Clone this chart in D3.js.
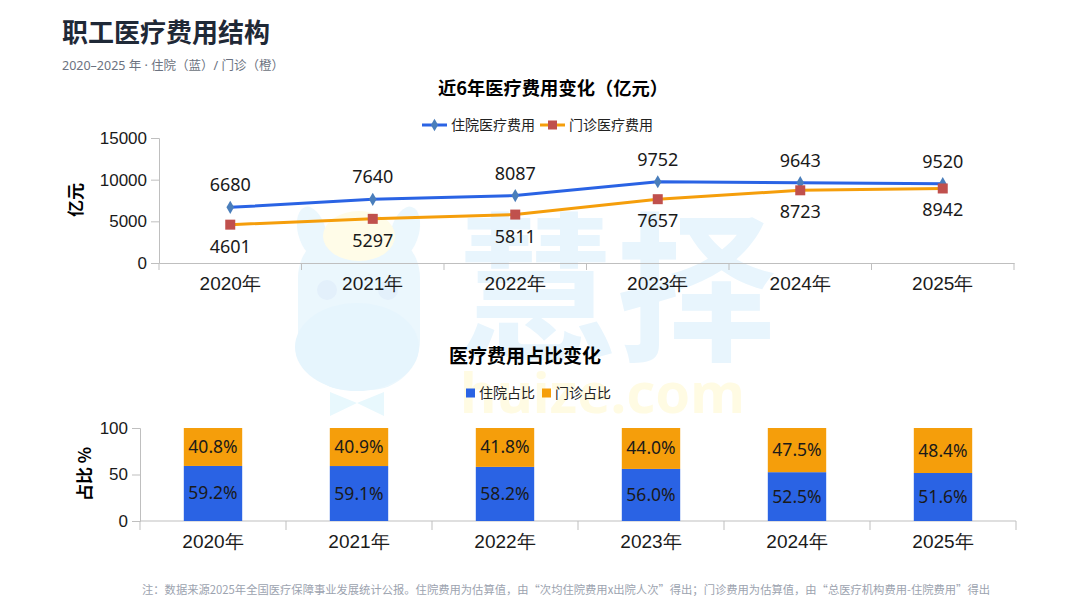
<!DOCTYPE html>
<head>
    <meta charset="utf-8">
    <script src="https://cdn.jsdelivr.net/npm/d3@7"></script>
    <style>
        body { margin: 0; background: #fff; }
        svg { font-family: "Noto Sans", "Noto Sans CJK SC", sans-serif; }
        .axis path, .axis line { stroke: #bfbfbf; }
        .axis text { fill: #1a1a1a; }
    </style>
</head>
<body>
<script>

    // data
    var years = ["2020年", "2021年", "2022年", "2023年", "2024年", "2025年"];
    var inpatient = [6680, 7640, 8087, 9752, 9643, 9520];
    var outpatient = [4601, 5297, 5811, 7657, 8723, 8942];
    var inShare = [59.2, 59.1, 58.2, 56.0, 52.5, 51.6];
    var outShare = [40.8, 40.9, 41.8, 44.0, 47.5, 48.4];
    var costTicks = [0, 5000, 10000, 15000];
    var shareTicks = [0, 50, 100];

    var blue = "#2a63e4", orange = "#f59e0b";

    var svg = d3.select("body").append("svg")
        .attr("width", 1080)
        .attr("height", 608);

    // watermark (mascot + brand)
    var wm = svg.append("g");
    var wmBlue = "#ebf7fd";
    wm.append("ellipse").attr("cx", 312).attr("cy", 232).attr("rx", 14).attr("ry", 26)
        .attr("transform", "rotate(-15,312,232)").style("fill", wmBlue);
    wm.append("ellipse").attr("cx", 405).attr("cy", 232).attr("rx", 14).attr("ry", 26)
        .attr("transform", "rotate(15,405,232)").style("fill", wmBlue);
    wm.append("rect").attr("x", 298).attr("y", 228).attr("width", 122).attr("height", 162)
        .attr("rx", 50).style("fill", wmBlue);
    wm.append("ellipse").attr("cx", 359).attr("cy", 236).attr("rx", 36).attr("ry", 25)
        .style("fill", "#fffce8");
    wm.append("circle").attr("cx", 327).attr("cy", 290).attr("r", 10).style("fill", "#e3f0fb");
    wm.append("circle").attr("cx", 388).attr("cy", 290).attr("r", 10).style("fill", "#e3f0fb");
    wm.append("ellipse").attr("cx", 357).attr("cy", 347).attr("rx", 62).attr("ry", 44)
        .style("fill", "#e6f5fd");
    wm.append("path").attr("d", "M330,392 L357,403 L330,416 Z M384,392 L357,403 L384,416 Z")
        .style("fill", "#e8f8fd");
    wm.append("text").attr("x", 456).attr("y", 348)
        .style("font-size", "160px").style("font-weight", "bold")
        .style("font-family", "Noto Sans CJK SC").style("fill", "#e8f5fd")
        .text("慧择");
    wm.append("text").attr("x", 460).attr("y", 413)
        .style("font-size", "56px").style("font-weight", "bold")
        .style("fill", "#fffbe3")
        .text("huize.com");

    // header
    svg.append("text").attr("x", 62).attr("y", 42)
        .style("font-size", "26px").style("font-weight", "bold").style("fill", "#1f2937")
        .style("font-family", "Noto Sans CJK SC")
        .text("职工医疗费用结构");
    svg.append("text").attr("x", 62).attr("y", 70)
        .style("font-size", "12.5px").style("fill", "#6b7280")
        .text("2020–2025 年 · 住院（蓝）/ 门诊（橙）");

    // ---------- top: line chart ----------
    var x1 = d3.scaleBand().domain(years).range([159, 1014]);
    var y1 = d3.scaleLinear().domain([0, 15000]).range([263, 138]);

    svg.append("text").attr("x", 553).attr("y", 95).attr("text-anchor", "middle")
        .style("font-size", "18.3px").style("font-weight", "bold").style("font-family", "Noto Sans CJK SC")
        .text("近6年医疗费用变化（亿元）");

    svg.append("text").attr("transform", "translate(82,200) rotate(-90)")
        .attr("text-anchor", "middle")
        .style("font-size", "17px").style("font-weight", "bold").style("font-family", "Noto Sans CJK SC")
        .text("亿元");

    svg.append("g").attr("class", "axis")
        .attr("transform", "translate(159,0)")
        .call(d3.axisLeft(y1).tickValues(costTicks).tickFormat(d3.format("d")).tickSize(8).tickPadding(4))
        .call(function(g) { g.selectAll("text").style("font-size", "17px").style("font-weight", "500"); });

    var xa1 = svg.append("g").attr("class", "axis")
        .attr("transform", "translate(0,263)")
        .call(d3.axisBottom(x1).tickSize(0).tickPadding(14).tickSizeOuter(0));
    xa1.selectAll("text").style("font-size", "19px");
    xa1.selectAll(".bound").data(d3.range(years.length + 1)).enter().append("line")
        .attr("x1", function(i) { return 159 + i * x1.step(); })
        .attr("x2", function(i) { return 159 + i * x1.step(); })
        .attr("y1", 0).attr("y2", 7).style("stroke", "#bfbfbf");

    var line = d3.line()
        .x(function(d, i) { return x1(years[i]) + x1.bandwidth() / 2; })
        .y(function(d) { return y1(d); });

    svg.append("path").datum(inpatient).attr("d", line)
        .style("fill", "none").style("stroke", blue).style("stroke-width", 3);
    svg.append("path").datum(outpatient).attr("d", line)
        .style("fill", "none").style("stroke", orange).style("stroke-width", 3);

    svg.selectAll(".dia").data(inpatient).enter().append("path")
        .attr("d", d3.symbol().type(d3.symbolDiamond).size(50))
        .attr("transform", function(d, i) {
            return "translate(" + (x1(years[i]) + x1.bandwidth() / 2) + "," + y1(d) + ")";
        })
        .style("fill", "#4a7ebb");
    svg.selectAll(".sq").data(outpatient).enter().append("rect")
        .attr("x", function(d, i) { return x1(years[i]) + x1.bandwidth() / 2 - 5; })
        .attr("y", function(d) { return y1(d) - 5; })
        .attr("width", 10).attr("height", 10)
        .style("fill", "#c0504d");

    svg.selectAll(".inlab").data(inpatient).enter().append("text")
        .attr("x", function(d, i) { return x1(years[i]) + x1.bandwidth() / 2; })
        .attr("y", function(d) { return y1(d) - 16; })
        .attr("text-anchor", "middle")
        .style("font-size", "18px").style("fill", "#1a1a1a")
        .text(function(d) { return d; });
    svg.selectAll(".outlab").data(outpatient).enter().append("text")
        .attr("x", function(d, i) { return x1(years[i]) + x1.bandwidth() / 2; })
        .attr("y", function(d) { return y1(d) + 28; })
        .attr("text-anchor", "middle")
        .style("font-size", "18px").style("fill", "#1a1a1a")
        .text(function(d) { return d; });

    // legend top
    var lg1 = svg.append("g").attr("transform", "translate(422,125)");
    lg1.append("line").attr("x1", 0).attr("x2", 25).style("stroke", blue).style("stroke-width", 3);
    lg1.append("path").attr("d", d3.symbol().type(d3.symbolDiamond).size(45))
        .attr("transform", "translate(12.5,0)").style("fill", "#4a7ebb");
    lg1.append("text").attr("x", 29).attr("y", 5).style("font-size", "14px")
        .style("font-family", "Noto Sans CJK SC").style("fill", "#222").text("住院医疗费用");
    lg1.append("line").attr("x1", 118).attr("x2", 143).style("stroke", orange).style("stroke-width", 3);
    lg1.append("rect").attr("x", 126).attr("y", -4.5).attr("width", 9).attr("height", 9).style("fill", "#c0504d");
    lg1.append("text").attr("x", 147).attr("y", 5).style("font-size", "14px")
        .style("font-family", "Noto Sans CJK SC").style("fill", "#222").text("门诊医疗费用");

    // ---------- bottom: stacked bars ----------
    var x2 = d3.scaleBand().domain(years).range([140, 1016]).paddingInner(0.6).paddingOuter(0.3);
    var y2 = d3.scaleLinear().domain([0, 100]).range([521, 428]);

    svg.append("text").attr("x", 525).attr("y", 363).attr("text-anchor", "middle")
        .style("font-size", "19px").style("font-weight", "bold").style("font-family", "Noto Sans CJK SC")
        .text("医疗费用占比变化");

    svg.append("text").attr("transform", "translate(91,474) rotate(-90)")
        .attr("text-anchor", "middle")
        .style("font-size", "17px").style("font-weight", "bold").style("font-family", "Noto Sans CJK SC")
        .text("占比 %");

    svg.append("g").attr("class", "axis")
        .attr("transform", "translate(140,0)")
        .call(d3.axisLeft(y2).tickValues(shareTicks).tickSize(8).tickPadding(4))
        .call(function(g) { g.selectAll("text").style("font-size", "17px").style("font-weight", "500"); });

    var xa2 = svg.append("g").attr("class", "axis")
        .attr("transform", "translate(0,521)")
        .call(d3.axisBottom(x2).tickSize(0).tickPadding(14).tickSizeOuter(0));
    xa2.select(".domain").attr("d", "M140,0H1016");
    xa2.selectAll("text").style("font-size", "19px");
    xa2.selectAll(".bound").data(d3.range(years.length + 1)).enter().append("line")
        .attr("x1", function(i) { return 140 + i * x2.step(); })
        .attr("x2", function(i) { return 140 + i * x2.step(); })
        .attr("y1", 0).attr("y2", 9).style("stroke", "#bfbfbf");

    svg.selectAll(".barIn").data(inShare).enter().append("rect")
        .attr("x", function(d, i) { return x2(years[i]); })
        .attr("y", function(d) { return y2(d); })
        .attr("width", x2.bandwidth())
        .attr("height", function(d) { return y2(0) - y2(d); })
        .style("fill", blue);
    svg.selectAll(".barOut").data(outShare).enter().append("rect")
        .attr("x", function(d, i) { return x2(years[i]); })
        .attr("y", function(d, i) { return y2(inShare[i] + d); })
        .attr("width", x2.bandwidth())
        .attr("height", function(d, i) { return y2(inShare[i]) - y2(inShare[i] + d); })
        .style("fill", orange);

    svg.selectAll(".labIn").data(inShare).enter().append("text")
        .attr("x", function(d, i) { return x2(years[i]) + x2.bandwidth() / 2; })
        .attr("y", function(d) { return (y2(0) + y2(d)) / 2 + 6; })
        .attr("text-anchor", "middle")
        .style("font-size", "17.5px").style("fill", "#1a1a1a")
        .text(function(d) { return d.toFixed(1) + "%"; });
    svg.selectAll(".labOut").data(outShare).enter().append("text")
        .attr("x", function(d, i) { return x2(years[i]) + x2.bandwidth() / 2; })
        .attr("y", function(d, i) { return (y2(inShare[i]) + y2(100)) / 2 + 6; })
        .attr("text-anchor", "middle")
        .style("font-size", "17.5px").style("fill", "#1a1a1a")
        .text(function(d) { return d.toFixed(1) + "%"; });

    // legend bottom
    var lg2 = svg.append("g").attr("transform", "translate(466,393)");
    lg2.append("rect").attr("x", 0).attr("y", -4.5).attr("width", 9).attr("height", 9).style("fill", blue);
    lg2.append("text").attr("x", 13).attr("y", 5).style("font-size", "14px")
        .style("font-family", "Noto Sans CJK SC").style("fill", "#222").text("住院占比");
    lg2.append("rect").attr("x", 76).attr("y", -4.5).attr("width", 9).attr("height", 9).style("fill", orange);
    lg2.append("text").attr("x", 89).attr("y", 5).style("font-size", "14px")
        .style("font-family", "Noto Sans CJK SC").style("fill", "#222").text("门诊占比");

    // footnote
    svg.append("text").attr("x", 566).attr("y", 594).attr("text-anchor", "middle")
        .style("font-size", "11.3px").style("fill", "#9ca3af")
        .style("font-family", "Noto Sans CJK SC")
        .text("注：数据来源2025年全国医疗保障事业发展统计公报。住院费用为估算值，由“次均住院费用x出院人次”得出；门诊费用为估算值，由“总医疗机构费用-住院费用”得出");

</script>
</body>
